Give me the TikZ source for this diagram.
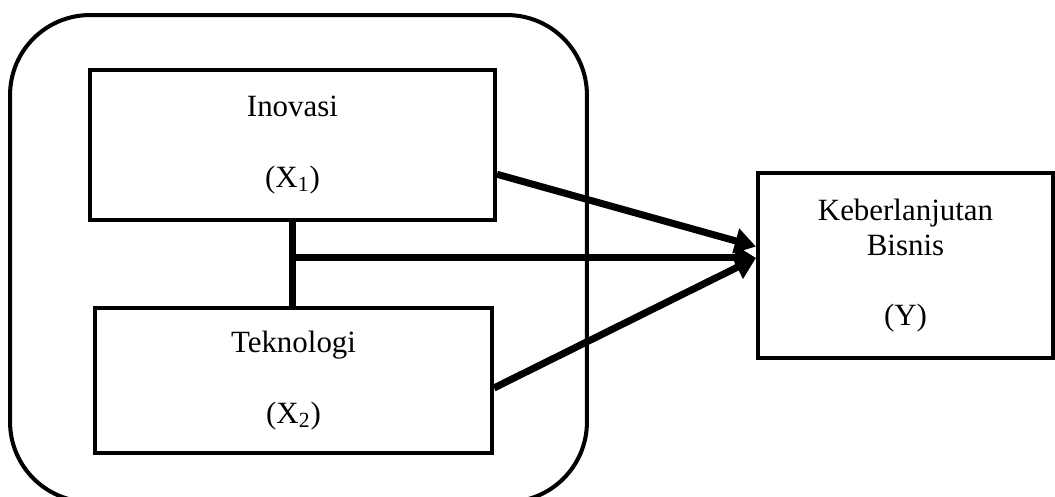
\documentclass[tikz,border=0pt]{standalone}
\usepackage{fontspec}
\setmainfont{Liberation Serif}
\usetikzlibrary{arrows.meta, calc, positioning}

\begin{document}
\begin{tikzpicture}[x=0.02cm, y=-0.02cm,
        every node/.style={font=\fontsize{17.6}{20}\selectfont, align=center},
        varbox/.style={draw, line width=2.3pt, inner sep=0pt},
        link/.style={line width=4pt},
        effect/.style={link, -{Triangle[length=12pt, width=14pt]}}]
        \useasboundingbox (0,0) rectangle (1055,497);
        % outer frame round X1 and X2
        \node[draw, line width=2.3pt, rounded corners=1.6cm, minimum width=11.54cm, minimum height=9.74cm] (frame) at (298.5,258.5) {};
        \node[varbox, minimum width=8.1cm, minimum height=3cm] (inov) at (292.5,145) {Inovasi\\[\baselineskip](X\textsubscript{1})};
        \node[varbox, minimum width=7.94cm, minimum height=2.9cm] (tek) at (293.5,380.5) {Teknologi\\[\baselineskip](X\textsubscript{2})};
        \node[varbox, minimum width=5.9cm, minimum height=3.7cm] (bis) at (905.5,265.5) {Keberlanjutan\\Bisnis\\[\baselineskip](Y)};
        % connection points
        \coordinate (in1) at ($(bis.north west)!0.4!(bis.south west)$);
        \coordinate (in2) at ($(bis.north west)!0.46!(bis.south west)$);
        \coordinate (j) at (inov.south |- in2);
        \draw[link] (inov.south) -- (inov.south |- tek.north);
        \draw[effect] ($(inov.north east)!0.69!(inov.south east)$) -- (in1);
        \draw[effect] (j) -- (in2);
        \draw[effect] ($(tek.north east)!0.55!(tek.south east)$) -- (in2);
    \end{tikzpicture}
\end{document}
